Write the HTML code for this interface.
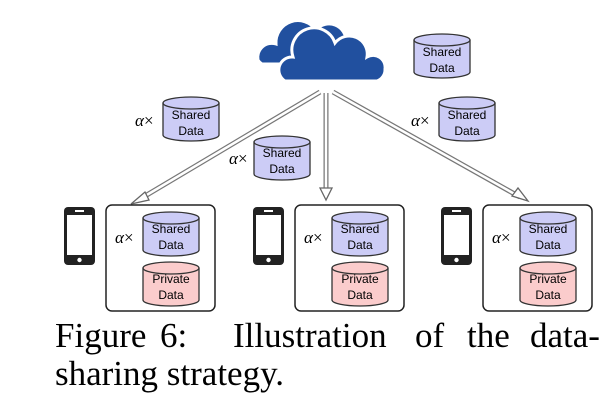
<!DOCTYPE html>
<html><head><style>body{margin:0;background:#fff}svg{display:block}</style></head><body>
<svg width="613" height="401" viewBox="0 0 613 401" xmlns="http://www.w3.org/2000/svg" font-family="Liberation Sans, sans-serif">
<defs>
<g id="cylS"><path d="M0,6 v32 a28,6 0 0 0 56,0 v-32" fill="#ccccf6" stroke="#333" stroke-width="1.3"/><ellipse cx="28" cy="6" rx="28" ry="6" fill="#ccccf6" stroke="#333" stroke-width="1.3"/></g>
<g id="cylP"><path d="M0,6 v32 a28,6 0 0 0 56,0 v-32" fill="#fbcccc" stroke="#333" stroke-width="1.3"/><ellipse cx="28" cy="6" rx="28" ry="6" fill="#fbcccc" stroke="#333" stroke-width="1.3"/></g>
<g id="phone"><rect x="0" y="0" width="31" height="58" rx="4" fill="#222"/><rect x="3" y="8" width="25" height="40" fill="#fff"/><rect x="11" y="3" width="9" height="2" fill="#fff"/><circle cx="15.5" cy="53" r="2.2" fill="#fff"/></g>
</defs>
<g fill="#21509f" stroke="#fff" stroke-width="3">
<path d="M258,60 a14,14 0 0 1 18,-16 a22,22 0 0 1 40,-14 a17,17 0 0 1 30,12 a12,12 0 0 1 8,22 h-92 a12,12 0 0 1 -4,-4z"/>
<path d="M285,81 a13,13 0 0 1 8,-24 a22,22 0 0 1 42,-14 a18,18 0 0 1 32,14 a12,12 0 0 1 18,12 a12,12 0 0 1 -8,12z"/>
</g>
<use href="#cylS" x="414" y="34"/>
<text x="442" y="56" font-size="12" text-anchor="middle">Shared</text><text x="442" y="72" font-size="12" text-anchor="middle">Data</text>
<g fill="none">
<line x1="320" y1="92" x2="140" y2="199" stroke="#777" stroke-width="5"/><line x1="320" y1="92" x2="140" y2="199" stroke="#fff" stroke-width="2.5"/>
<line x1="326" y1="93" x2="326" y2="192" stroke="#777" stroke-width="5"/><line x1="326" y1="93" x2="326" y2="192" stroke="#fff" stroke-width="2.5"/>
<line x1="333" y1="92" x2="520" y2="197" stroke="#777" stroke-width="5"/><line x1="333" y1="92" x2="520" y2="197" stroke="#fff" stroke-width="2.5"/>
</g>
<g fill="#fff" stroke="#666" stroke-width="1.3">
<polygon points="131,204 145,192 149,200"/>
<polygon points="326,200 320,188 332,188"/>
<polygon points="528,201 512,196 518,188"/>
</g>
<g font-size="17" font-family="Liberation Serif, serif">
<text x="135" y="126"><tspan font-style="italic">α</tspan>×</text>
<text x="229" y="164"><tspan font-style="italic">α</tspan>×</text>
<text x="411" y="126"><tspan font-style="italic">α</tspan>×</text>
</g>
<use href="#cylS" x="163" y="97"/><text x="191" y="119" font-size="12" text-anchor="middle">Shared</text><text x="191" y="135" font-size="12" text-anchor="middle">Data</text>
<use href="#cylS" x="254" y="136"/><text x="282" y="157" font-size="12" text-anchor="middle">Shared</text><text x="282" y="173" font-size="12" text-anchor="middle">Data</text>
<use href="#cylS" x="439" y="97"/><text x="467" y="119" font-size="12" text-anchor="middle">Shared</text><text x="467" y="135" font-size="12" text-anchor="middle">Data</text>
<g id="client">
<use href="#phone" x="64" y="207"/>
<rect x="106" y="205" width="109" height="106" rx="6" fill="#fff" stroke="#222" stroke-width="1.5"/>
<text x="115" y="243" font-size="17" font-family="Liberation Serif, serif"><tspan font-style="italic">α</tspan>×</text>
<use href="#cylS" x="143" y="212"/><text x="171" y="233" font-size="12" text-anchor="middle">Shared</text><text x="171" y="249" font-size="12" text-anchor="middle">Data</text>
<use href="#cylP" x="143" y="262"/><text x="171" y="283" font-size="12" text-anchor="middle">Private</text><text x="171" y="299" font-size="12" text-anchor="middle">Data</text>
</g>
<use href="#client" x="189" y="0"/>
<use href="#client" x="377" y="0"/>
<g font-size="35" font-family="Liberation Serif, serif">
<text x="55" y="347">Figure</text>
<text x="160" y="347">6:</text>
<text x="233" y="347">Illustration</text>
<text x="415" y="347">of</text>
<text x="467" y="347">the</text>
<text x="530" y="347">data-</text>
<text x="55" y="385">sharing strategy.</text>
</g>
</svg>
</body></html>
